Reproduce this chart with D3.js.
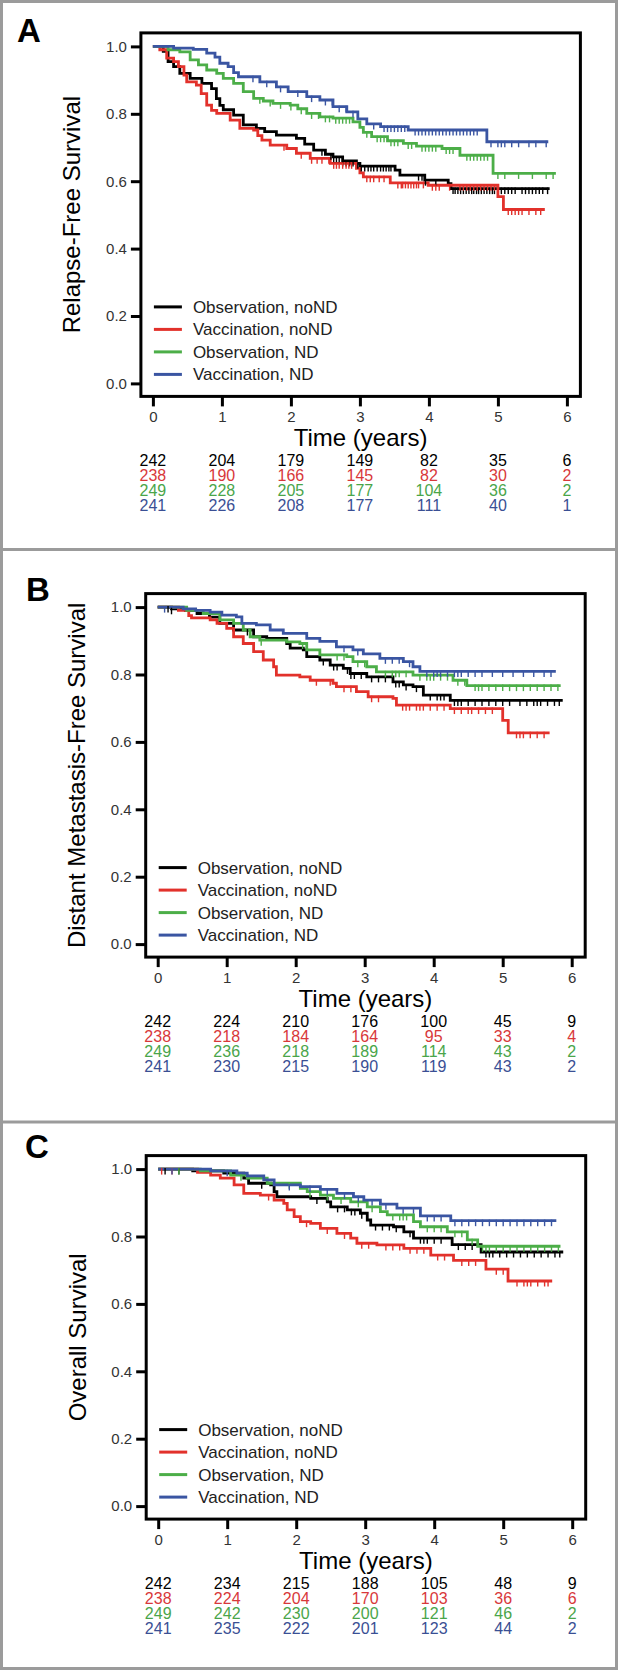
<!DOCTYPE html>
<html>
<head>
<meta charset="utf-8">
<script src="https://cdn.jsdelivr.net/npm/d3@7"></script>
<style>
  html, body { margin: 0; padding: 0; background: #fff; }
  svg { display: block; }
  text { font-family: "Liberation Sans", Arial, Helvetica, sans-serif; }
</style>
</head>
<body>
<div id="chart"></div>
<script>
// ---------------- DATA ----------------
const seriesNames = ["Observation, noND", "Vaccination, noND", "Observation, ND", "Vaccination, ND"];
const seriesColors = ["#000000", "#e2312b", "#4cae48", "#3a55a2"];
const textColors = ["#000000", "#d8383a", "#4aa54a", "#3a4f94"];
const xTicks = [0, 1, 2, 3, 4, 5, 6];
const yTicks = [0.0, 0.2, 0.4, 0.6, 0.8, 1.0];
const panelLetters = ["A", "B", "C"];
const yTitles = ["Relapse-Free Survival", "Distant Metastasis-Free Survival", "Overall Survival"];
const xTitle = "Time (years)";

// Panel A: relapse-free survival, [time, survival] steps
const rfsObsNoND = [[0,1],[0.15,0.985],[0.22,0.955],[0.3,0.94],[0.39,0.92],[0.54,0.905],[0.71,0.89],[0.85,0.875],[0.92,0.845],[0.97,0.825],[1.02,0.812],[1.17,0.796],[1.31,0.767],[1.5,0.757],[1.62,0.747],[1.79,0.737],[2.08,0.727],[2.2,0.71],[2.33,0.692],[2.5,0.68],[2.61,0.672],[2.75,0.66],[2.95,0.653],[3.0,0.645],[3.51,0.633],[3.58,0.618],[3.94,0.603],[4.28,0.593],[4.32,0.578],[5.75,0.578]];
const rfsVacNoND = [[0,1],[0.1,0.99],[0.2,0.965],[0.3,0.955],[0.37,0.94],[0.45,0.915],[0.49,0.895],[0.63,0.885],[0.7,0.86],[0.78,0.826],[0.85,0.81],[0.925,0.801],[1.12,0.781],[1.26,0.757],[1.46,0.752],[1.52,0.735],[1.58,0.722],[1.7,0.707],[1.94,0.697],[2.08,0.683],[2.28,0.668],[2.57,0.653],[2.95,0.638],[3.0,0.625],[3.05,0.613],[3.44,0.595],[3.99,0.588],[5.0,0.554],[5.08,0.516],[5.68,0.516]];
const rfsObsND = [[0,1],[0.22,0.99],[0.39,0.984],[0.54,0.96],[0.66,0.945],[0.78,0.93],[0.925,0.92],[1.02,0.905],[1.17,0.89],[1.31,0.866],[1.46,0.846],[1.6,0.838],[1.74,0.831],[1.99,0.826],[2.1,0.815],[2.23,0.801],[2.42,0.791],[2.61,0.787],[2.9,0.776],[3.0,0.76],[3.05,0.745],[3.17,0.732],[3.4,0.72],[3.63,0.712],[3.82,0.704],[4.19,0.697],[4.45,0.677],[4.93,0.623],[5.84,0.623]];
const rfsVacND = [[0,1],[0.3,0.995],[0.585,0.991],[0.78,0.98],[0.9,0.968],[0.97,0.95],[1.09,0.94],[1.17,0.922],[1.24,0.91],[1.55,0.895],[1.79,0.88],[1.96,0.866],[2.23,0.851],[2.42,0.841],[2.61,0.821],[2.81,0.806],[2.97,0.785],[3.1,0.77],[3.3,0.762],[3.7,0.752],[4.84,0.717],[5.73,0.717]];

// Panel B: distant metastasis-free survival
const dmfsObsNoND = [[0,1],[0.2,0.995],[0.4,0.99],[0.57,0.981],[0.75,0.97],[0.9,0.952],[1.1,0.932],[1.39,0.912],[1.58,0.907],[1.87,0.892],[1.92,0.878],[2.11,0.873],[2.16,0.853],[2.35,0.843],[2.5,0.828],[2.69,0.818],[2.79,0.803],[3.03,0.793],[3.41,0.778],[3.56,0.769],[3.7,0.764],[3.85,0.739],[4.24,0.723],[5.87,0.723]];
const dmfsVacNoND = [[0,1],[0.3,0.99],[0.45,0.975],[0.49,0.968],[0.76,0.962],[0.86,0.952],[1.0,0.937],[1.1,0.912],[1.24,0.892],[1.39,0.868],[1.53,0.843],[1.68,0.823],[1.72,0.798],[2.06,0.793],[2.21,0.783],[2.54,0.774],[2.59,0.764],[2.88,0.749],[3.05,0.734],[3.41,0.729],[3.46,0.709],[4.24,0.699],[5.0,0.664],[5.08,0.627],[5.68,0.627]];
const dmfsObsND = [[0,1],[0.42,0.99],[0.66,0.981],[0.9,0.962],[1.1,0.952],[1.24,0.932],[1.34,0.912],[1.48,0.902],[1.87,0.897],[2.06,0.892],[2.16,0.873],[2.35,0.858],[2.74,0.853],[2.83,0.838],[3.03,0.823],[3.17,0.808],[3.7,0.798],[4.28,0.783],[4.48,0.767],[5.84,0.767]];
const dmfsVacND = [[0,1],[0.37,0.995],[0.55,0.99],[0.76,0.985],[0.93,0.976],[1.14,0.971],[1.22,0.952],[1.43,0.947],[1.63,0.932],[1.82,0.922],[2.16,0.907],[2.35,0.898],[2.59,0.882],[2.83,0.873],[2.98,0.861],[3.22,0.848],[3.56,0.838],[3.7,0.823],[3.8,0.809],[5.77,0.809]];

// Panel C: overall survival
const osObsNoND = [[0,1],[0.5,0.995],[0.95,0.988],[1.24,0.973],[1.31,0.958],[1.63,0.953],[1.68,0.933],[1.72,0.918],[2.21,0.913],[2.45,0.903],[2.5,0.888],[2.74,0.879],[2.93,0.869],[3.03,0.849],[3.08,0.834],[3.41,0.829],[3.56,0.814],[3.7,0.795],[4.26,0.776],[4.68,0.754],[5.87,0.754]];
const osVacNoND = [[0,1],[0.57,0.99],[0.76,0.982],[0.9,0.973],[1.1,0.953],[1.24,0.928],[1.48,0.923],[1.68,0.908],[1.82,0.898],[1.87,0.879],[1.97,0.859],[2.06,0.844],[2.21,0.839],[2.35,0.824],[2.59,0.809],[2.79,0.795],[2.88,0.78],[3.17,0.775],[3.56,0.765],[3.95,0.745],[4.28,0.729],[4.75,0.703],[5.07,0.668],[5.71,0.668]];
const osObsND = [[0,1],[0.61,0.995],[1.05,0.982],[1.29,0.973],[1.58,0.958],[2.06,0.943],[2.16,0.933],[2.35,0.923],[2.54,0.913],[2.79,0.903],[3.03,0.888],[3.22,0.874],[3.32,0.864],[3.7,0.844],[3.8,0.829],[4.19,0.814],[4.48,0.79],[4.63,0.771],[5.83,0.771]];
const osVacND = [[0,1],[0.76,0.995],[1.14,0.988],[1.29,0.98],[1.53,0.968],[1.68,0.953],[2.06,0.948],[2.35,0.94],[2.59,0.928],[2.83,0.918],[2.98,0.908],[3.22,0.896],[3.46,0.884],[3.8,0.861],[4.24,0.847],[5.77,0.847]];

// censoring times (years)
const rfsCensor = [
  [2.45,2.58,2.62,2.66,2.7,2.75,2.8,2.85,2.9,2.97,3.02,3.07,3.12,3.16,3.2,3.25,3.3,3.34,3.38,3.42,3.45,3.85,3.9,3.95,4.1,4.35,4.38,4.42,4.46,4.5,4.54,4.58,4.62,4.65,4.69,4.72,4.76,4.8,4.84,4.88,4.92,4.95,5.05,5.1,5.15,5.2,5.25,5.35,5.4,5.45,5.5,5.55,5.6,5.65,5.72],
  [1.9,2.15,2.3,2.38,2.45,2.55,2.62,2.66,2.7,2.75,2.8,2.84,2.88,3.1,3.15,3.2,3.28,3.35,3.55,3.6,3.62,3.66,3.7,3.74,3.78,3.82,3.85,3.92,4.05,4.1,4.15,4.3,4.45,4.5,4.55,4.6,4.65,4.7,4.75,4.8,4.85,4.9,4.95,5.15,5.2,5.25,5.3,5.35,5.45,5.55,5.62],
  [1.55,1.7,1.85,2.0,2.15,2.3,2.4,2.5,2.56,2.65,2.7,2.75,2.8,2.85,3.1,3.25,3.3,3.35,3.45,3.5,3.55,3.7,3.75,3.9,3.95,4.0,4.05,4.1,4.25,4.3,4.35,4.55,4.6,4.65,4.7,4.75,4.8,4.85,5.0,5.1,5.3,5.5,5.7,5.8],
  [1.45,1.65,1.85,2.1,2.3,2.5,2.6,2.7,2.8,2.9,3.2,3.35,3.4,3.45,3.5,3.55,3.6,3.65,3.8,3.85,3.9,3.95,4.0,4.05,4.1,4.15,4.2,4.25,4.3,4.35,4.4,4.45,4.5,4.55,4.6,4.65,4.7,4.9,5.0,5.05,5.1,5.2,5.3,5.45,5.55,5.7]
];
const dmfsCensor = [
  [0.15,0.2,1.3,2.4,2.55,2.6,2.75,2.8,2.85,2.95,3.1,3.2,3.3,3.45,3.5,3.6,3.75,3.95,4.05,4.1,4.15,4.3,4.35,4.4,4.5,4.6,4.7,4.8,4.9,5.0,5.1,5.25,5.35,5.45,5.5,5.55,5.65,5.75,5.82],
  [2.3,2.5,2.7,2.8,3.1,3.2,3.55,3.6,3.65,3.75,3.8,3.85,3.95,4.05,4.15,4.3,4.4,4.5,4.55,4.65,4.75,4.85,5.2,5.25,5.3,5.4,5.5,5.6],
  [1.5,2.1,2.6,2.7,2.9,3.0,3.3,3.4,3.45,3.5,3.6,3.8,3.9,3.95,4.0,4.1,4.2,4.35,4.45,4.6,4.65,4.7,4.8,4.9,5.0,5.1,5.2,5.3,5.4,5.5,5.6,5.7,5.8],
  [0.1,2.7,2.9,3.3,3.4,3.5,3.65,3.9,4.0,4.05,4.1,4.2,4.3,4.35,4.4,4.5,4.6,4.7,4.85,5.0,5.15,5.3,5.45,5.6,5.7]
];
const osCensor = [
  [0.1,0.3,1.5,2.3,2.6,2.7,2.8,2.85,2.95,3.15,3.25,3.35,3.45,3.65,3.8,3.85,3.9,4.0,4.1,4.35,4.45,4.55,4.75,4.8,4.85,4.95,5.05,5.15,5.25,5.35,5.45,5.55,5.65,5.75,5.82],
  [0.05,0.2,1.6,2.15,2.45,2.7,2.95,3.05,3.3,3.4,3.5,3.65,3.75,3.85,4.05,4.15,4.4,4.5,4.6,4.9,5.0,5.2,5.3,5.35,5.4,5.5,5.6,5.65],
  [0.3,1.2,1.9,2.2,2.45,2.65,2.9,3.1,3.4,3.5,3.55,3.6,3.9,4.0,4.1,4.3,4.4,4.55,4.7,4.75,4.8,4.9,5.0,5.1,5.2,5.3,5.4,5.5,5.6,5.7,5.8],
  [0.2,1.0,1.9,2.2,2.45,2.7,2.9,3.1,3.3,3.55,3.7,3.9,4.0,4.1,4.3,4.4,4.5,4.6,4.7,4.8,4.9,5.0,5.1,5.2,5.3,5.4,5.5,5.6,5.7]
];

// numbers at risk at years 0..6
const rfsAtRisk = [[242,204,179,149,82,35,6],[238,190,166,145,82,30,2],[249,228,205,177,104,36,2],[241,226,208,177,111,40,1]];
const dmfsAtRisk = [[242,224,210,176,100,45,9],[238,218,184,164,95,33,4],[249,236,218,189,114,43,2],[241,230,215,190,119,43,2]];
const osAtRisk = [[242,234,215,188,105,48,9],[238,224,204,170,103,36,6],[249,242,230,200,121,46,2],[241,235,222,201,123,44,2]];

// ---------------- LAYOUT ----------------
const W = 618, H = 1670;
const panels = [
  { curves: [rfsObsNoND, rfsVacNoND, rfsObsND, rfsVacND], censor: rfsCensor, atRisk: rfsAtRisk,
    x0: 152.9, y1: 46.4, letterX: 17, letterY: 42 },
  { curves: [dmfsObsNoND, dmfsVacNoND, dmfsObsND, dmfsVacND], censor: dmfsCensor, atRisk: dmfsAtRisk,
    x0: 157.7, y1: 607.1, letterX: 26, letterY: 601 },
  { curves: [osObsNoND, osVacNoND, osObsND, osVacND], censor: osCensor, atRisk: osAtRisk,
    x0: 158.2, y1: 1169.1, letterX: 25, letterY: 1158 }
];
const xSpan = 414, ySpan = 337;

const svg = d3.select("#chart").append("svg").attr("width", W).attr("height", H);
svg.append("rect").attr("width", W).attr("height", H).attr("fill", "#fff");

// panel borders
const border = "#9b9b9b";
svg.append("rect").attr("x", 1.5).attr("y", 1.5).attr("width", W - 3).attr("height", H - 3)
  .attr("fill", "none").attr("stroke", border).attr("stroke-width", 3);
[549.6, 1122].forEach(yy => svg.append("line").attr("x1", 0).attr("x2", W).attr("y1", yy).attr("y2", yy)
  .attr("stroke", border).attr("stroke-width", 3));

function stepValue(pts, t) {
  let v = pts[0][1];
  for (const p of pts) { if (p[0] <= t) v = p[1]; else break; }
  return v;
}

panels.forEach((p, pi) => {
  const x = d3.scaleLinear().domain([0, 6]).range([p.x0, p.x0 + xSpan]);
  const y = d3.scaleLinear().domain([0, 1]).range([p.y1 + ySpan, p.y1]);
  const g = svg.append("g");
  const fL = x(0) - 12, fR = x(6) + 13.5, fT = y(1) - 13.5, fB = y(0) + 13;

  // panel letter
  g.append("text").attr("x", p.letterX).attr("y", p.letterY).text(panelLetters[pi])
    .attr("font-size", 33).attr("font-weight", "bold").attr("fill", "#000");

  // y axis
  const yAxis = d3.axisLeft(y).tickValues(yTicks).tickFormat(d3.format(".1f")).tickSize(10).tickPadding(4);
  const yg = g.append("g").attr("transform", `translate(${fL},0)`).call(yAxis);
  yg.select(".domain").remove();
  yg.selectAll(".tick line").attr("stroke", "#000").attr("stroke-width", 3);
  yg.selectAll(".tick text").attr("font-size", 15).attr("fill", "#333")
    .attr("font-family", "'Liberation Sans', Arial, sans-serif");

  // x axis
  const xAxis = d3.axisBottom(x).tickValues(xTicks).tickFormat(d3.format("d")).tickSize(10).tickPadding(5);
  const xg = g.append("g").attr("transform", `translate(0,${fB})`).call(xAxis);
  xg.select(".domain").remove();
  xg.selectAll(".tick line").attr("stroke", "#000").attr("stroke-width", 3);
  xg.selectAll(".tick text").attr("font-size", 15).attr("fill", "#333")
    .attr("font-family", "'Liberation Sans', Arial, sans-serif");

  // frame
  g.append("rect").attr("x", fL).attr("y", fT).attr("width", fR - fL).attr("height", fB - fT)
    .attr("fill", "none").attr("stroke", "#000").attr("stroke-width", 3);

  // curves
  const line = d3.line().x(d => x(d[0])).y(d => y(d[1])).curve(d3.curveStepAfter);
  p.curves.forEach((c, si) => {
    g.append("path").datum(c).attr("d", line).attr("fill", "none")
      .attr("stroke", seriesColors[si]).attr("stroke-width", 2.8);
  });
  p.curves.forEach((c, si) => {
    g.selectAll(null).data(p.censor[si]).enter().append("line")
      .attr("x1", t => x(t)).attr("x2", t => x(t))
      .attr("y1", t => y(stepValue(c, t)) - 1).attr("y2", t => y(stepValue(c, t)) + 5.5)
      .attr("stroke", seriesColors[si]).attr("stroke-width", 1.4);
  });

  // legend
  const legOff = [76.5, 54, 31.5, 9];
  seriesNames.forEach((n, si) => {
    const ly = y(0) - legOff[si];
    g.append("line").attr("x1", fL + 13).attr("x2", fL + 41).attr("y1", ly).attr("y2", ly)
      .attr("stroke", seriesColors[si]).attr("stroke-width", 3);
    g.append("text").attr("x", fL + 52).attr("y", ly).attr("dy", "0.35em").text(n)
      .attr("font-size", 17).attr("fill", "#222");
  });

  // y title
  g.append("text").attr("transform", `translate(${x(0) - 81},${(fT + fB) / 2}) rotate(-90)`)
    .attr("text-anchor", "middle").attr("dy", "0.35em").text(yTitles[pi])
    .attr("font-size", 24).attr("fill", "#000");

  // x title
  g.append("text").attr("x", (fL + fR) / 2).attr("y", y(0) + 54).attr("dy", "0.35em")
    .attr("text-anchor", "middle").text(xTitle).attr("font-size", 24).attr("fill", "#000");

  // numbers at risk
  const rowOff = [77, 92, 107.3, 122.3];
  p.atRisk.forEach((row, si) => {
    g.selectAll(null).data(row).enter().append("text")
      .attr("x", (d, i) => x(xTicks[i])).attr("y", y(0) + rowOff[si]).attr("dy", "0.35em")
      .attr("text-anchor", "middle").text(d => d)
      .attr("font-size", 16).attr("fill", textColors[si]);
  });
});
</script>
</body>
</html>
